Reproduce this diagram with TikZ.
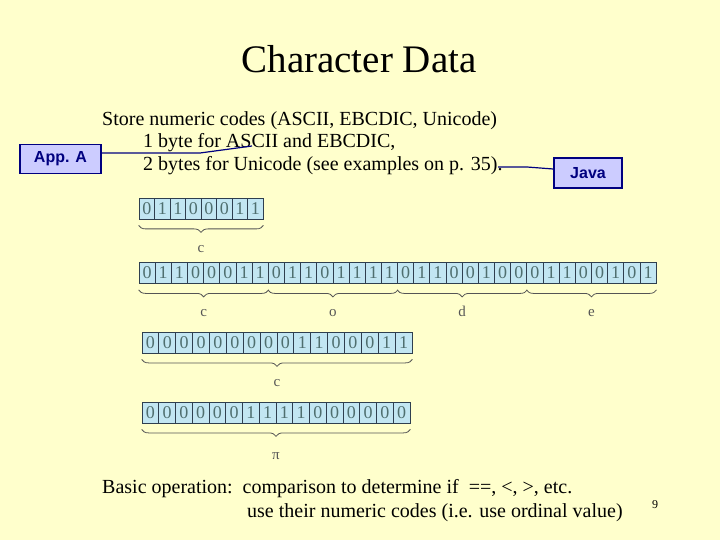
\documentclass[tikz,border=0pt]{standalone}
\usepackage{fontspec}
\setmainfont{Liberation Serif}
\newfontfamily\tagfont{Liberation Sans}
\usetikzlibrary{positioning, decorations.pathreplacing}
\definecolor{slidebg}{HTML}{FFFFCC}
\definecolor{tagfill}{HTML}{CCCCFF}
\definecolor{tagline}{HTML}{000080}
\definecolor{bitfill}{HTML}{C2E6F2}
\definecolor{bitline}{HTML}{2F3F4F}
\definecolor{bitdigit}{HTML}{4F6F6F}
\definecolor{bracegrey}{HTML}{555555}
\tikzset{
    tag/.style={rectangle, draw=tagline, line width=1.6pt, fill=tagfill, text=tagline, font=\tagfont\bfseries\fontsize{16}{18}\selectfont, inner sep=0pt},
    bit/.style={rectangle, draw=bitline, line width=0.8pt, fill=bitfill, text=bitdigit, font=\fontsize{18}{18}\selectfont, inner sep=0pt, minimum height=21pt},
    codebrace/.style={draw=bracegrey, line width=0.8pt, decorate, decoration={brace, mirror, amplitude=7pt}},
    letter/.style={text=bracegrey, font=\fontsize{15}{15}\selectfont, inner sep=0pt, anchor=base, yshift=-27pt},
    body/.style={anchor=base west, inner sep=0pt, font=\fontsize{20}{22}\selectfont},
    link/.style={draw=tagline, line width=1.2pt}
}
% one row of bit cells: name, left x, centre y, cell width, bits
\newcommand{\bitrow}[5]{%
    \foreach \b [count=\i] in {#5}
        \node[bit, minimum width=#4pt] (#1\i) at ({#2+(\i-0.5)*#4}, #3) {\b};
}

\begin{document}
\begin{tikzpicture}[x=1pt, y=-1pt]
    \fill[slidebg] (0,0) rectangle (720,540);
    \useasboundingbox (0,0) rectangle (720,540);

    \node[anchor=base, font=\fontsize{39}{40}\selectfont] (title) at (359,73) {Character Data};

    \node[body] (store) at (102,126) {Store numeric codes (ASCII, EBCDIC, Unicode)};
    \node[body] (ascii) at (143,148) {1 byte for ASCII and EBCDIC,};
    \node[body] (uni) at (143,171) {2 bytes for Unicode (see examples on p. 35).};

    \node[tag, minimum width=81pt, minimum height=29pt] (appa) at (60.5,159) {App. A};
    \node[tag, minimum width=68pt, minimum height=30pt] (java) at (588,173) {Java};

    \coordinate (asciihook) at (252,146);
    \coordinate (unihook) at (498,167);
    \draw[link] ([yshift=6pt]appa.east) -- (200,153) -- (asciihook);
    \draw[link] (unihook) -- (527,167) -- ([yshift=4pt]java.west);

    % c in one byte
    \bitrow{ra}{139}{208.5}{15.5}{0,1,1,0,0,0,1,1}
    \draw[codebrace] ([yshift=-6pt]ra1.south west) -- ([yshift=-6pt]ra8.south east)
        node[letter, midway] (ralabel) {c};

    % "code" in four bytes
    \bitrow{rb}{139}{273}{16.16}{0,1,1,0,0,0,1,1,0,1,1,0,1,1,1,1,0,1,1,0,0,1,0,0,0,1,1,0,0,1,0,1}
    \draw[codebrace] ([yshift=-6pt]rb1.south west) -- ([yshift=-6pt]rb8.south east)
        node[letter, midway] (rbc) {c};
    \draw[codebrace] ([yshift=-6pt]rb9.south west) -- ([yshift=-6pt]rb16.south east)
        node[letter, midway] (rbo) {o};
    \draw[codebrace] ([yshift=-6pt]rb17.south west) -- ([yshift=-6pt]rb24.south east)
        node[letter, midway] (rbd) {d};
    \draw[codebrace] ([yshift=-6pt]rb25.south west) -- ([yshift=-6pt]rb32.south east)
        node[letter, midway] (rbe) {e};

    % c in two bytes
    \bitrow{rc}{142}{342.5}{16.875}{0,0,0,0,0,0,0,0,0,1,1,0,0,0,1,1}
    \draw[codebrace] ([yshift=-6pt]rc1.south west) -- ([yshift=-6pt]rc16.south east)
        node[letter, midway] (rclabel) {c};

    % pi in two bytes
    \bitrow{rd}{142}{412.5}{16.75}{0,0,0,0,0,0,1,1,1,1,0,0,0,0,0,0}
    \draw[codebrace] ([yshift=-6pt]rd1.south west) -- ([yshift=-6pt]rd16.south east)
        node[letter, midway, yshift=-3pt] (rdlabel) {π};

    \node[body] (basic) at (102,493) {Basic operation:\ \ comparison to determine if\ \ ==, <, >, etc.};
    \node[body] (ordinal) at (247,517) {use their numeric codes (i.e. use ordinal value)};
    \node[font=\fontsize{12}{12}\selectfont] (page) at (655,505) {9};
\end{tikzpicture}
\end{document}
